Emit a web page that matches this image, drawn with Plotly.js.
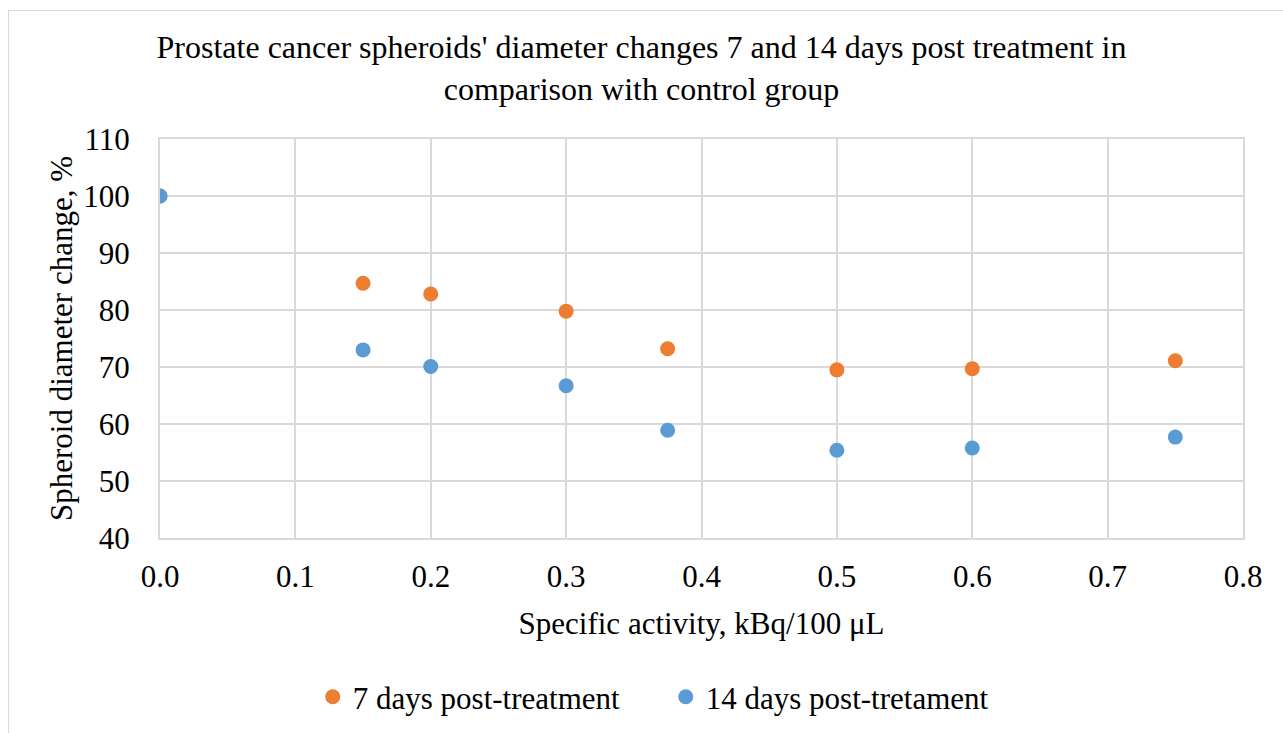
<!DOCTYPE html>
<html><head><meta charset="utf-8">
<script src="https://cdn.plot.ly/plotly-3.0.1.min.js"></script>
<style>
html,body{margin:0;padding:0;background:#fff;overflow:hidden;}
#chart{width:1283px;height:733px;position:absolute;left:0;top:0;}
#frame{position:absolute;left:8px;top:10px;width:1300px;height:760px;border:1px solid #d9d9d9;pointer-events:none;}
</style></head>
<body>
<div id="chart"></div>
<div id="frame"></div>
<script>
const activity = [0, 0.15, 0.2, 0.3, 0.375, 0.5, 0.6, 0.75];
const days7 = [100, 84.7, 82.8, 79.8, 73.2, 69.5, 69.7, 71.1];
const days14 = [100, 73.0, 70.1, 66.7, 58.9, 55.4, 55.8, 57.7];
const seriesNames = ['7 days post-treatment', '14 days post-tretament'];
const font = '"Liberation Serif", "Times New Roman", serif';

const traces = [
  {x: activity, y: days7, name: seriesNames[0], type: 'scatter', mode: 'markers',
   marker: {color: '#ed7d31', size: 15}},
  {x: activity, y: days14, name: seriesNames[1], type: 'scatter', mode: 'markers',
   marker: {color: '#5b9bd5', size: 15}}
];
const layout = {
  width: 1283, height: 733,
  margin: {l: 160, r: 40, t: 139, b: 195, autoexpand: false},
  paper_bgcolor: '#fff', plot_bgcolor: '#fff',
  font: {family: font, color: '#000', size: 31},
  title: {text: "Prostate cancer spheroids' diameter changes 7 and 14 days post treatment in<br>comparison with control group",
          font: {family: font, size: 32, color: '#000'}, x: 0.5, xanchor: 'center', y: 0.921, yanchor: 'top'},
  xaxis: {range: [0, 0.8], dtick: 0.1, tickformat: '.1f', showgrid: true, gridcolor: '#d9d9d9', gridwidth: 2,
          zeroline: false, showline: true, linecolor: '#d9d9d9', linewidth: 2, mirror: true, ticks: 'outside', ticklen: 10, tickcolor: 'rgba(0,0,0,0)',
          tickfont: {size: 31}, title: {text: 'Specific activity, kBq/100 μL', font: {size: 31}, standoff: 19}},
  yaxis: {range: [40, 110], dtick: 10, showgrid: true, gridcolor: '#d9d9d9', gridwidth: 2,
          zeroline: false, showline: true, linecolor: '#d9d9d9', linewidth: 2, mirror: true, ticks: 'outside', ticklen: 22, tickcolor: 'rgba(0,0,0,0)',
          tickfont: {size: 31}, title: {text: 'Spheroid diameter change, %', font: {size: 31}, standoff: 1}},
  showlegend: true,
  legend: {orientation: 'h', x: 0.467, xanchor: 'center', yref: 'container', y: 0.049, yanchor: 'middle', font: {size: 31}, itemwidth: 30,
           entrywidth: 308, entrywidthmode: 'pixels'},
  hovermode: false
};
Plotly.newPlot('chart', traces, layout, {displayModeBar: false, staticPlot: true});
</script>
</body></html>
